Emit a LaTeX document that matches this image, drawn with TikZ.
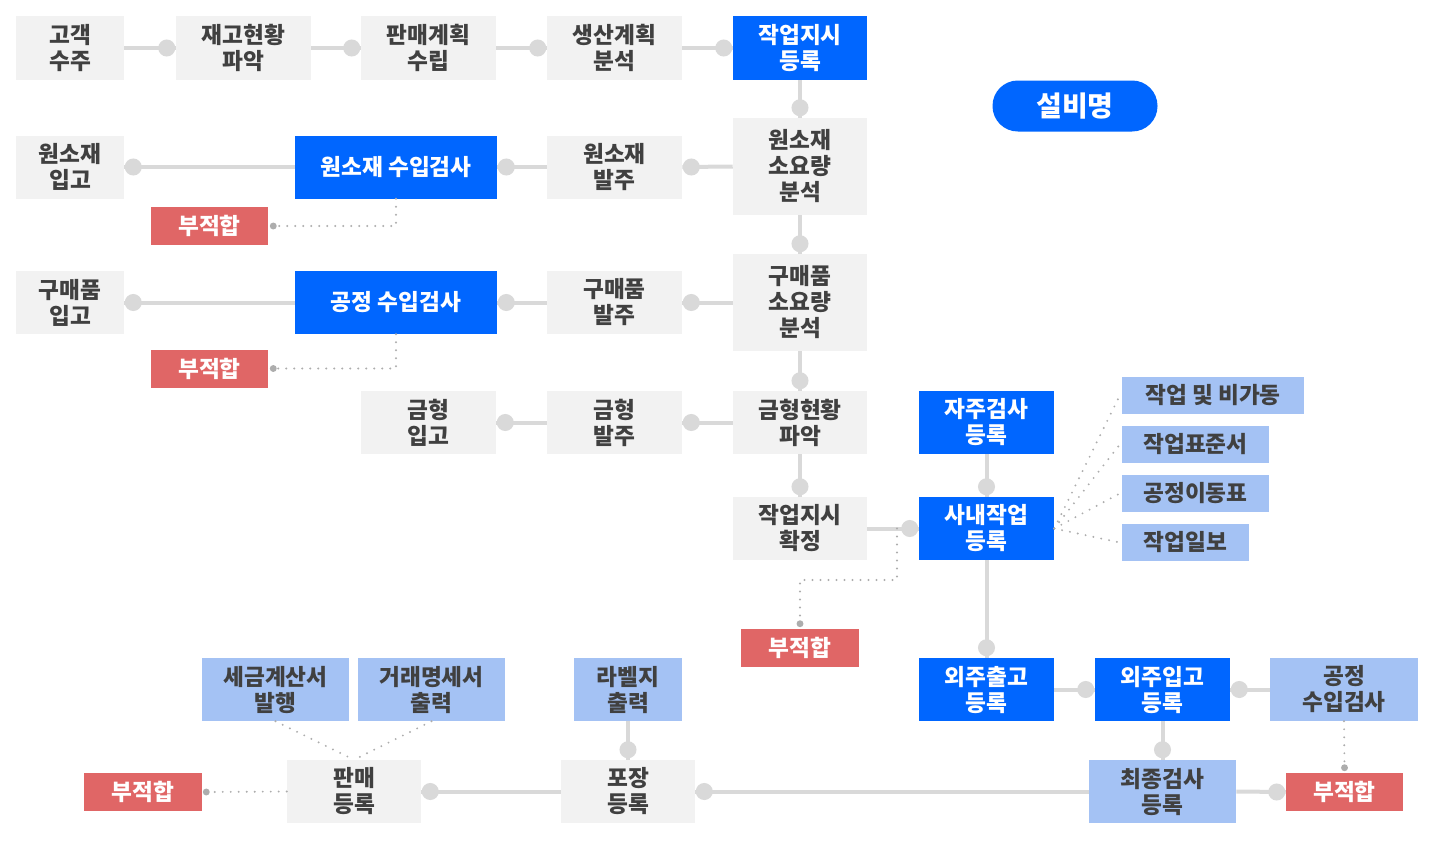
\documentclass[tikz,border=0pt]{standalone}
\usepackage{fontspec}
\setmainfont{Noto Sans CJK KR}
\definecolor{gfill}{HTML}{F2F2F2}
\definecolor{gtext}{HTML}{404040}
\definecolor{bfill}{HTML}{0066FF}
\definecolor{lfill}{HTML}{A4C2F4}
\definecolor{rfill}{HTML}{E06666}
\definecolor{lnc}{HTML}{D9D9D9}
\definecolor{dotc}{HTML}{ADADAD}
\tikzset{
  base/.style={rectangle, inner sep=0pt, align=center, font=\fontsize{17}{19.5}\selectfont\bfseries},
  gbox/.style={base, fill=gfill, text=gtext},
  bbox/.style={base, fill=bfill, text=white},
  lbox/.style={base, fill=lfill, text=gtext},
  rbox/.style={base, fill=rfill, text=white},
  wh/.style 2 args={minimum width=#1*0.75pt, minimum height=#2*0.75pt},
  ln/.style={draw=lnc, line width=3pt},
  dt/.style={fill=lnc},
  dl/.style={draw=dotc, line width=1.6pt, line cap=round, dash pattern=on 0pt off 6pt},
  sd/.style={fill=dotc},
}
\begin{document}
\begin{tikzpicture}[x=0.75pt,y=-0.75pt]
\useasboundingbox (0,0) rectangle (1434,843);
% row 1
\node[gbox,wh={108}{64}] (n1) at (70,48) {고객\\수주};
\node[gbox,wh={135}{64}] (n2) at (243.5,48) {재고현황\\파악};
\node[gbox,wh={135}{64}] (n3) at (428.5,48) {판매계획\\수립};
\node[gbox,wh={135}{64}] (n4) at (614.5,48) {생산계획\\분석};
\node[bbox,wh={134}{64}] (n5) at (800,48) {작업지시\\등록};
\node[base, fill=bfill, text=white, wh={165}{51}, rounded corners=19pt, font=\fontsize{21}{24}\selectfont\bfseries] (eq) at (1075,106) {설비명};
% row 2
\node[gbox,wh={108}{63}] (r1) at (70,167) {원소재\\입고};
\node[bbox,wh={202}{63}] (r2) at (396,167) {원소재 수입검사};
\node[gbox,wh={135}{63}] (r3) at (614.5,167) {원소재\\발주};
\node[gbox,wh={134}{97}] (r4) at (800,166.5) {원소재\\소요량\\분석};
\node[rbox,wh={117}{38}] (f1) at (209.5,226) {부적합};
% row 3
\node[gbox,wh={108}{63}] (s1) at (70,302.5) {구매품\\입고};
\node[bbox,wh={202}{63}] (s2) at (396,302.5) {공정 수입검사};
\node[gbox,wh={135}{63}] (s3) at (614.5,302.5) {구매품\\발주};
\node[gbox,wh={134}{97}] (s4) at (800,302.5) {구매품\\소요량\\분석};
\node[rbox,wh={117}{38}] (f2) at (209.5,368.5) {부적합};
% row 4
\node[gbox,wh={135}{63}] (t1) at (428.5,422.5) {금형\\입고};
\node[gbox,wh={135}{63}] (t2) at (614.5,422.5) {금형\\발주};
\node[gbox,wh={134}{63}] (t3) at (800,422.5) {금형현황\\파악};
\node[gbox,wh={134}{63}] (u1) at (800,528.5) {작업지시\\확정};
\node[rbox,wh={118}{38}] (f3) at (800,648) {부적합};
\node[bbox,wh={135}{63}] (v1) at (986.5,422.5) {자주검사\\등록};
\node[bbox,wh={135}{63}] (v2) at (986.5,528.5) {사내작업\\등록};
% documents
\node[lbox,wh={182}{37}] (d1) at (1213,395.5) {작업 및 비가동};
\node[lbox,wh={147}{37}] (d2) at (1195.5,444.5) {작업표준서};
\node[lbox,wh={147}{37}] (d3) at (1195.5,493.5) {공정이동표};
\node[lbox,wh={127}{37}] (d4) at (1185.5,542.5) {작업일보};
% bottom
\node[bbox,wh={135}{63}] (w1) at (986.5,689.5) {외주출고\\등록};
\node[bbox,wh={135}{63}] (w2) at (1162.5,689.5) {외주입고\\등록};
\node[lbox,wh={148}{63}] (w3) at (1344,689.5) {공정\\수입검사};
\node[lbox,wh={147}{63}] (x1) at (1162.5,791.5) {최종검사\\등록};
\node[rbox,wh={117}{38}] (f4) at (1344.5,792) {부적합};
\node[gbox,wh={134}{63}] (x2) at (628,791.5) {포장\\등록};
\node[lbox,wh={108}{63}] (y1) at (628,689.5) {라벨지\\출력};
\node[gbox,wh={134}{63}] (x3) at (354,791.5) {판매\\등록};
\node[lbox,wh={147}{63}] (y2) at (275.5,689.5) {세금계산서\\발행};
\node[lbox,wh={147}{63}] (y3) at (431.5,689.5) {거래명세서\\출력};
\node[rbox,wh={118}{38}] (f5) at (143,792) {부적합};
% solid connectors with dots
\foreach \a/\b in {n1/n2,n2/n3,n3/n4,n4/n5,u1/v2,w1/w2,x1/f4}{
  \draw[ln] (\a.east) -- (\b.west);
  \fill[dt] ([shift={(-9,0)}]\b.west) circle[radius=6.4pt];
}
\foreach \a/\b in {r4/r3,r3/r2,r2/r1,s4/s3,s3/s2,s2/s1,t3/t2,t2/t1,w3/w2,x1/x2,x2/x3}{
  \draw[ln] (\a.west) -- (\b.east);
  \fill[dt] ([shift={(9,0)}]\b.east) circle[radius=6.4pt];
}
\foreach \a/\b in {n5/r4,r4/s4,s4/t3,t3/u1,v1/v2,v2/w1,w2/x1,y1/x2}{
  \draw[ln] (\a.south) -- (\b.north);
  \fill[dt] ([shift={(0,-10)}]\b.north) circle[radius=6.4pt];
}
% dotted connectors
\draw[dl] (r2.south) |- ([shift={(5,0)}]f1.east);
\fill[sd] ([shift={(5,0)}]f1.east) circle[radius=2.6pt];
\draw[dl] (s2.south) |- ([shift={(5,0)}]f2.east);
\fill[sd] ([shift={(5,0)}]f2.east) circle[radius=2.6pt];
\coordinate (c1) at (897,528.5);
\coordinate (c2) at (897,580);
\draw[dl] (c1) -- (c2) -| ([shift={(0,-5)}]f3.north);
\fill[sd] ([shift={(0,-5)}]f3.north) circle[radius=2.6pt];
\foreach \d in {d1,d2,d3,d4}{
  \draw[dl] (v2.east) -- ([shift={(-2,0)}]\d.west);
}
\draw[dl] (w3.south) -- ([shift={(0,-5)}]f4.north);
\fill[sd] ([shift={(0,-5)}]f4.north) circle[radius=2.6pt];
\draw[dl] (y2.south) -- (x3.north);
\draw[dl] (y3.south) -- (x3.north);
\draw[dl] (x3.west) -- ([shift={(4,0)}]f5.east);
\fill[sd] ([shift={(4,0)}]f5.east) circle[radius=2.6pt];
\end{tikzpicture}
\end{document}
